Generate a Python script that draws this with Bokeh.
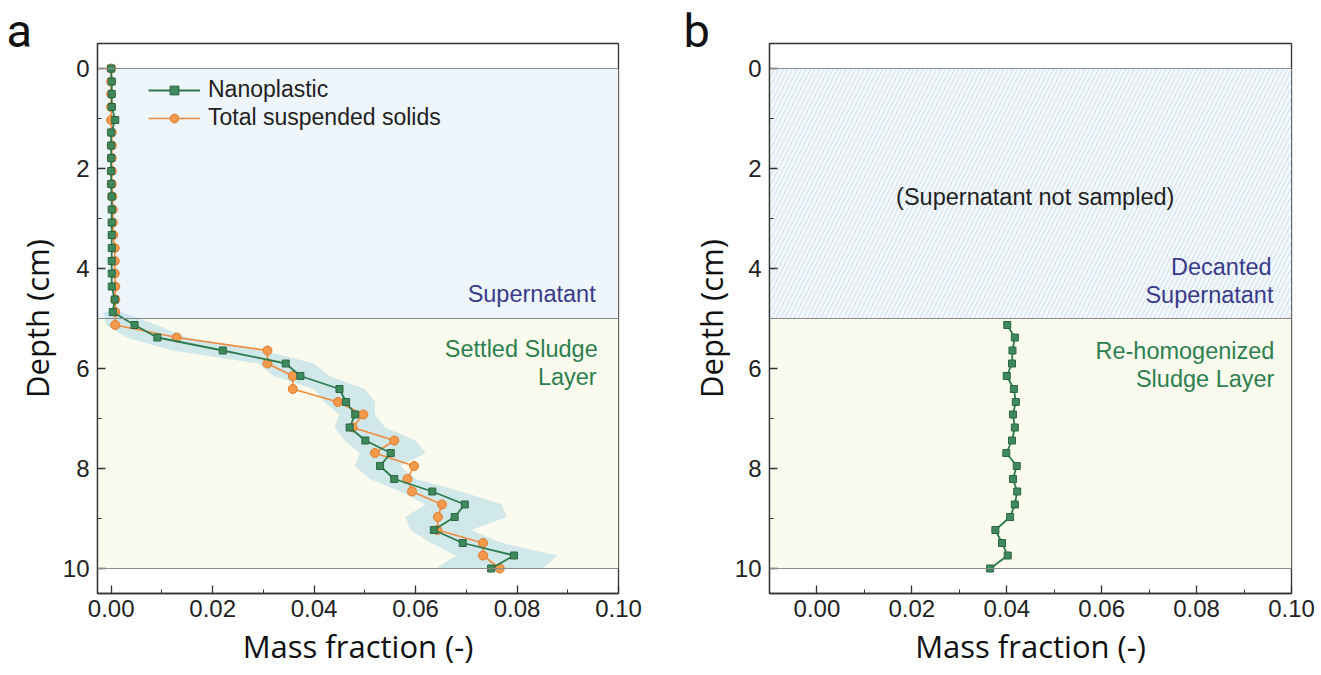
from bokeh.plotting import figure
from bokeh.models import (Range1d, BoxAnnotation, Span, Label, Legend, LegendItem,
                          SingleIntervalTicker, NumeralTickFormatter)
from bokeh.layouts import row
from bokeh.embed import file_html
from bokeh.resources import INLINE

# ---------------- data ----------------
depth_a = [0.00, 0.26, 0.51, 0.77, 1.03, 1.28, 1.54, 1.79, 2.05, 2.31,
           2.56, 2.82, 3.08, 3.33, 3.59, 3.85, 4.10, 4.36, 4.62, 4.87,
           5.13, 5.38, 5.64, 5.90, 6.15, 6.41, 6.67, 6.92, 7.18, 7.44,
           7.69, 7.95, 8.21, 8.46, 8.72, 8.97, 9.23, 9.49, 9.74, 10.00]
nano_a = [0.0000, 0.0001, 0.0001, 0.0001, 0.0008, 0.0000, 0.0000, 0.0000, 0.0000, 0.0000,
          0.0001, 0.0001, 0.0001, 0.0001, 0.0001, 0.0001, 0.0001, 0.0001, 0.0007, 0.0003,
          0.0046, 0.0091, 0.0220, 0.0344, 0.0373, 0.0450, 0.0463, 0.0481, 0.0470, 0.0501,
          0.0551, 0.0530, 0.0558, 0.0633, 0.0697, 0.0677, 0.0636, 0.0693, 0.0794, 0.0749]
tss_a = [0.0000, 0.0000, 0.0000, 0.0000, 0.0000, 0.0001, 0.0001, 0.0001, 0.0001, 0.0001,
         0.0002, 0.0003, 0.0003, 0.0004, 0.0007, 0.0007, 0.0007, 0.0008, 0.0008, 0.0008,
         0.0008, 0.0129, 0.0308, 0.0308, 0.0358, 0.0358, 0.0447, 0.0497, 0.0476, 0.0558,
         0.0520, 0.0597, 0.0584, 0.0593, 0.0652, 0.0644, 0.0643, 0.0733, 0.0733, 0.0766]
band_depth = [4.87, 5.13, 5.38, 5.64, 5.90, 6.15, 6.41, 6.67, 6.92, 7.18, 7.44,
              7.69, 7.95, 8.21, 8.46, 8.72, 8.97, 9.23, 9.49, 9.74, 10.00]
band_low = [-0.0015, -0.0010, 0.0030, 0.0120, 0.0290, 0.0320, 0.0400, 0.0420, 0.0450, 0.0440, 0.0460,
            0.0490, 0.0480, 0.0510, 0.0570, 0.0620, 0.0580, 0.0590, 0.0630, 0.0680, 0.0640]
band_high = [0.0020, 0.0090, 0.0150, 0.0300, 0.0400, 0.0430, 0.0500, 0.0520, 0.0520, 0.0540, 0.0600,
             0.0620, 0.0570, 0.0600, 0.0690, 0.0770, 0.0780, 0.0710, 0.0770, 0.0880, 0.0850]

depth_b = [5.13, 5.38, 5.64, 5.90, 6.15, 6.41, 6.67, 6.92, 7.18, 7.44,
           7.69, 7.95, 8.21, 8.46, 8.72, 8.97, 9.23, 9.49, 9.74, 10.00]
nano_b = [0.0401, 0.0417, 0.0412, 0.0411, 0.0400, 0.0415, 0.0419, 0.0413, 0.0417, 0.0411,
          0.0399, 0.0421, 0.0413, 0.0422, 0.0417, 0.0407, 0.0376, 0.0390, 0.0402, 0.0365]

layer_bounds = [0, 5, 10]

# ---------------- style ----------------
GREEN_LINE = "#2c7a4c"
GREEN_FILL = "#3f8a5c"
GREEN_EDGE = "#2a6642"
ORANGE_LINE = "#f08a3c"
ORANGE_FILL = "#f39a4c"
ORANGE_EDGE = "#e07a2a"
BLUE_TEXT = "#3a3a8a"
GREEN_TEXT = "#2e7f4f"
TICK_FONT = "Liberation Sans"
TITLE_FONT = "Open Sans"
LETTER_FONT = "Roboto"
ANN_SIZE = "23.5px"


def make_panel(xmin, left_border, right_border, frame_w, ylab_standoff, letter, letter_offset):
    p = figure(frame_width=frame_w, frame_height=550,
               x_range=Range1d(xmin, 0.10), y_range=Range1d(10.5, -0.5),
               output_backend="svg", toolbar_location=None,
               min_border_left=left_border, min_border_right=right_border,
               min_border_top=43, min_border_bottom=81)
    p.xgrid.visible = False
    p.ygrid.visible = False
    p.outline_line_color = "#333333"
    p.outline_line_width = 1.3
    p.outline_line_alpha = 1.0
    p.border_fill_color = "white"
    p.background_fill_color = "white"

    p.title.text = letter
    p.title.align = "left"
    p.title.offset = letter_offset
    p.title.standoff = -28
    p.title.text_font = LETTER_FONT
    p.title.text_font_size = "47px"
    p.title.text_font_style = "normal"
    p.title.text_color = "#111111"

    p.xaxis.ticker = SingleIntervalTicker(interval=0.02, num_minor_ticks=2)
    p.xaxis.formatter = NumeralTickFormatter(format="0.00")
    p.yaxis.ticker = SingleIntervalTicker(interval=2, num_minor_ticks=2)
    for ax in (p.xaxis[0], p.yaxis[0]):
        ax.major_tick_in = 8
        ax.major_tick_out = 0
        ax.minor_tick_in = 4
        ax.minor_tick_out = 0
        ax.axis_line_color = "#333333"
        ax.axis_line_width = 1.3
        ax.major_tick_line_color = "#333333"
        ax.minor_tick_line_color = "#333333"
        ax.major_tick_line_width = 1.3
        ax.major_label_text_font = TICK_FONT
        ax.major_label_text_font_size = "24px"
        ax.major_label_text_color = "#222222"
        ax.axis_label_text_font = TITLE_FONT
        ax.axis_label_text_font_size = "31px"
        ax.axis_label_text_font_style = "normal"
        ax.axis_label_text_color = "#111111"
    p.xaxis.axis_label = "Mass fraction (-)"
    p.yaxis.axis_label = "Depth (cm)"
    p.xaxis.major_label_standoff = 6
    p.xaxis.axis_label_standoff = 5
    p.yaxis.major_label_standoff = 8
    p.yaxis.axis_label_standoff = ylab_standoff

    for loc in layer_bounds:
        p.add_layout(Span(location=loc, dimension="width", line_color="#8a8a8a",
                          line_width=1.2))
    return p


def ann(p, x, y, text, color, align="right"):
    p.add_layout(Label(x=x, y=y, text=text, text_align=align, text_baseline="middle",
                       text_font=TICK_FONT, text_font_size=ANN_SIZE, text_color=color))


# ---------------- panel a ----------------
pa = make_panel(-0.0027, 97, 30, 521, 2, "a", -91)
pa.add_layout(BoxAnnotation(top=layer_bounds[0], bottom=layer_bounds[1],
                            fill_color="#eef5fb", fill_alpha=1.0, line_alpha=0,
                            level="underlay"))
pa.add_layout(BoxAnnotation(top=layer_bounds[1], bottom=layer_bounds[2],
                            fill_color="#fafbee", fill_alpha=1.0, line_alpha=0,
                            level="underlay"))

pa.harea(x1=band_low, x2=band_high, y=band_depth, fill_color="#9fd0e6", fill_alpha=0.45)

tl = pa.line(tss_a, depth_a, line_color=ORANGE_LINE, line_width=1.6)
ts = pa.scatter(tss_a, depth_a, marker="circle", size=9, fill_color=ORANGE_FILL,
                line_color=ORANGE_EDGE, line_width=1)
nl = pa.line(nano_a, depth_a, line_color=GREEN_LINE, line_width=1.8)
ns = pa.scatter(nano_a, depth_a, marker="square", size=7, fill_color=GREEN_FILL,
                line_color=GREEN_EDGE, line_width=1)

legend = Legend(items=[LegendItem(label="Nanoplastic", renderers=[nl, ns]),
                       LegendItem(label="Total suspended solids", renderers=[tl, ts])],
                location=(51, 462), padding=0, margin=0, spacing=1,
                glyph_width=52, glyph_height=22, label_height=22, label_standoff=8,
                label_text_font=TICK_FONT, label_text_font_size="23px",
                label_text_color="#222222",
                border_line_alpha=0, background_fill_alpha=0)
pa.add_layout(legend)

ann(pa, 0.0955, 4.5, "Supernatant", BLUE_TEXT)
ann(pa, 0.0959, 5.61, "Settled Sludge", GREEN_TEXT)
ann(pa, 0.0957, 6.17, "Layer", GREEN_TEXT)

# ---------------- panel b ----------------
pb = make_panel(-0.010, 121, 25, 522, 0, "b", -86)
pb.add_layout(BoxAnnotation(top=layer_bounds[0], bottom=layer_bounds[1],
                            fill_color="#f4f8fc", fill_alpha=1.0, line_alpha=0,
                            hatch_pattern="right_diagonal_line", hatch_color="#c9dced",
                            hatch_alpha=0.9, hatch_scale=9, hatch_weight=1,
                            level="underlay"))
pb.add_layout(BoxAnnotation(top=layer_bounds[1], bottom=layer_bounds[2],
                            fill_color="#fafbee", fill_alpha=1.0, line_alpha=0,
                            level="underlay"))

pb.line(nano_b, depth_b, line_color=GREEN_LINE, line_width=1.8)
pb.scatter(nano_b, depth_b, marker="square", size=7, fill_color=GREEN_FILL,
           line_color=GREEN_EDGE, line_width=1)

ann(pb, 0.046, 2.57, "(Supernatant not sampled)", "#222222", align="center")
ann(pb, 0.0958, 3.97, "Decanted", BLUE_TEXT)
ann(pb, 0.0962, 4.53, "Supernatant", BLUE_TEXT)
ann(pb, 0.0964, 5.64, "Re-homogenized", GREEN_TEXT)
ann(pb, 0.0964, 6.2, "Sludge Layer", GREEN_TEXT)

layout = row(pa, pb)
open("out.html", "w").write(file_html(layout, INLINE))
